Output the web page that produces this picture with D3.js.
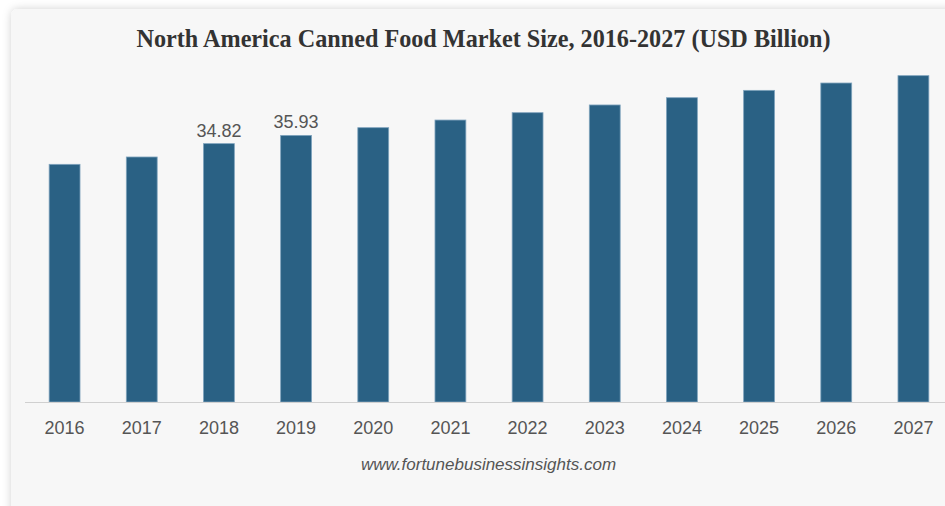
<!DOCTYPE html>
<html><head><meta charset="utf-8">
<script src="https://cdn.jsdelivr.net/npm/d3@7"></script>
<style>
html,body{margin:0;padding:0;background:#ffffff;overflow:hidden;}
svg{display:block;}
</style></head>
<body>
<svg id="chart" width="945" height="506"></svg>
<script>
const years = ["2016","2017","2018","2019","2020","2021","2022","2023","2024","2025","2026","2027"];
const marketSize = [32.03, 33.02, 34.82, 35.93, 36.97, 38.00, 38.99, 40.03, 41.01, 42.00, 42.99, 43.98];
const labelledYears = ["2018","2019"];
const titleText = "North America Canned Food Market Size, 2016-2027 (USD Billion)";
const sourceText = "www.fortunebusinessinsights.com";

const svg = d3.select("#chart");
const defs = svg.append("defs");
const f = defs.append("filter").attr("id","sh").attr("x","-5%").attr("y","-5%").attr("width","110%").attr("height","110%");
f.append("feDropShadow").attr("dx",0).attr("dy",0).attr("stdDeviation",4).attr("flood-color","#000").attr("flood-opacity",0.18);

svg.append("rect").attr("x",11).attr("y",9).attr("width",960).attr("height",520)
  .attr("rx",7).attr("fill","#f7f7f7").attr("filter","url(#sh)");

const baseline = 402;
const x = d3.scaleBand().domain(years).range([26, 952]).paddingInner(0.6).paddingOuter(0.3);
const y = d3.scaleLinear().domain([0, 50]).range([baseline, baseline - 7.42*50]);

svg.append("text").attr("x",483.5).attr("y",46.5).attr("text-anchor","middle")
  .attr("font-family","'Liberation Serif','Times New Roman',serif").attr("font-weight","bold")
  .attr("font-size",24.2).attr("fill","#333").text(titleText);

svg.append("g").selectAll("rect").data(years).join("rect")
  .attr("x",d=>x(d)).attr("width",x.bandwidth())
  .attr("y",(d,i)=>y(marketSize[i])).attr("height",(d,i)=>baseline - y(marketSize[i]))
  .attr("fill","#2a6184").attr("stroke","#7fa3bd").attr("stroke-width",0.8);

const axis = d3.axisBottom(x).tickSize(0).tickPadding(19);
const ag = svg.append("g").attr("transform",`translate(0,${baseline})`).call(axis);
ag.select(".domain").remove();
ag.selectAll("text").attr("font-family","'Liberation Sans',Arial,sans-serif").attr("font-size",18).attr("fill","#555");
svg.append("line").attr("x1",25).attr("x2",945).attr("y1",baseline+0.5).attr("y2",baseline+0.5)
  .attr("stroke","#d0d0d0").attr("stroke-width",1);

svg.append("g").selectAll("text").data(years.filter(d=>labelledYears.includes(d))).join("text")
  .attr("x",d=>x(d)+x.bandwidth()/2).attr("y",d=>y(marketSize[years.indexOf(d)])-7)
  .attr("text-anchor","middle").attr("font-family","'Liberation Sans',Arial,sans-serif")
  .attr("font-size",18).attr("fill","#555").text(d=>marketSize[years.indexOf(d)].toFixed(2));

svg.append("text").attr("x",488.5).attr("y",470).attr("text-anchor","middle")
  .attr("font-family","'Liberation Sans',Arial,sans-serif").attr("font-style","italic")
  .attr("font-size",17).attr("fill","#555").text(sourceText);
</script>
</body></html>
